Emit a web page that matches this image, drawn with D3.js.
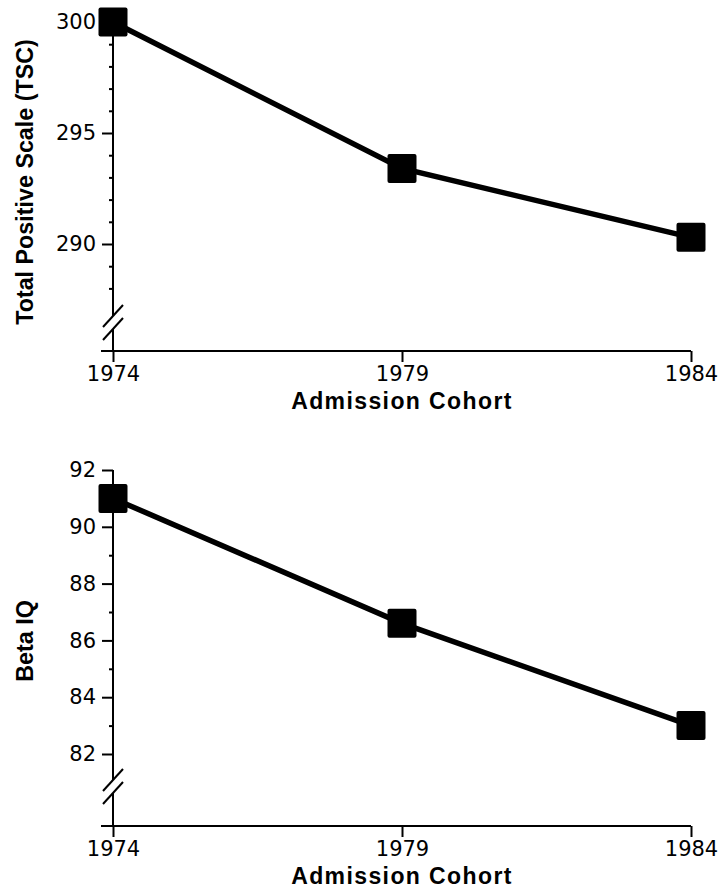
<!DOCTYPE html>
<html>
<head>
<meta charset="utf-8">
<script src="https://cdn.jsdelivr.net/npm/d3@7"></script>
<style>
  body { margin: 0; background: #fff; }
  svg { display: block; }
  .tick text { font-family: "DejaVu Sans", "Liberation Sans", Arial, sans-serif; font-size: 21px; fill: #000; }
  .title { font-family: "Liberation Sans", Arial, Helvetica, sans-serif; font-weight: bold; fill: #000; }
</style>
</head>
<body>
<script>
// Chart data
var cohorts = [1974, 1979, 1984];
var tscValues = [300.0, 293.4, 290.3];
var iqValues = [91.0, 86.6, 83.0];

// Tick labels
var tscTicks = [290, 295, 300];
var iqTicks = [82, 84, 86, 88, 90, 92];

var width = 723,
    height = 892;

var svg = d3.select("body").append("svg")
    .attr("width", width)
    .attr("height", height);

// Shared x scale for both panels
var x = d3.scaleLinear()
    .domain([1974, 1984])
    .range([113, 691]);

// One panel: values, scale, tick setup and where the bottom axis sits
function drawPanel(opts) {
    var g = svg.append("g");
    var y = opts.y;

    // Y axis line with a gap for the break
    g.append("line")
        .attr("x1", x(1974)).attr("x2", x(1974))
        .attr("y1", y(opts.top)).attr("y2", opts.breakY - 6)
        .attr("stroke", "#000").attr("stroke-width", 2);
    g.append("line")
        .attr("x1", x(1974)).attr("x2", x(1974))
        .attr("y1", opts.breakY + 7).attr("y2", opts.axisY)
        .attr("stroke", "#000").attr("stroke-width", 2);

    // Break marks (two slashes)
    [-6, 7].forEach(function(off) {
        g.append("line")
            .attr("x1", x(1974) - 10).attr("y1", opts.breakY + off + 11)
            .attr("x2", x(1974) + 10).attr("y2", opts.breakY + off - 11)
            .attr("stroke", "#000").attr("stroke-width", 2);
    });

    // Minor y ticks
    g.append("g")
        .attr("transform", "translate(" + x(1974) + ",0)")
        .call(d3.axisLeft(y).tickValues(opts.minor).tickSize(4).tickFormat(""))
        .call(function(s) { s.select(".domain").remove(); })
        .selectAll("line").attr("stroke-width", 2);

    // Major y ticks with labels
    g.append("g")
        .attr("transform", "translate(" + x(1974) + ",0)")
        .call(d3.axisLeft(y).tickValues(opts.ticks).tickSize(11).tickPadding(6).tickFormat(d3.format("d")))
        .call(function(s) { s.select(".domain").remove(); })
        .selectAll("line").attr("stroke-width", 2);

    // X axis
    g.append("line")
        .attr("x1", x(1974) - 12).attr("x2", x(1984))
        .attr("y1", opts.axisY).attr("y2", opts.axisY)
        .attr("stroke", "#000").attr("stroke-width", 2);
    g.append("g")
        .attr("transform", "translate(0," + opts.axisY + ")")
        .call(d3.axisBottom(x).tickValues(cohorts).tickSize(11).tickPadding(4).tickFormat(d3.format("d")))
        .call(function(s) { s.select(".domain").remove(); })
        .selectAll("line").attr("stroke-width", 2);

    // Axis titles
    g.append("text")
        .attr("class", "title")
        .attr("x", x(1979))
        .attr("y", opts.axisY + 58)
        .attr("text-anchor", "middle")
        .style("font-size", "23px")
        .style("letter-spacing", "1.4px")
        .text("Admission Cohort");

    g.append("text")
        .attr("class", "title")
        .attr("transform", "translate(33," + opts.titleY + ") rotate(-90)")
        .attr("text-anchor", "middle")
        .style("font-size", "23.3px")
        .text(opts.label);

    // Data line
    var line = d3.line()
        .x(function(d, i) { return x(cohorts[i]); })
        .y(function(d) { return y(d); });

    g.append("path")
        .datum(opts.values)
        .attr("fill", "none")
        .attr("stroke", "#000")
        .attr("stroke-width", 5.5)
        .attr("d", line);

    // Square markers
    g.selectAll("rect.pt")
        .data(opts.values)
        .enter()
        .append("rect")
        .attr("class", "pt")
        .attr("x", function(d, i) { return x(cohorts[i]) - 14.5; })
        .attr("y", function(d) { return y(d) - 14.5; })
        .attr("width", 29)
        .attr("height", 29)
        .attr("rx", 2)
        .attr("fill", "#000");
}

// Top panel: Total Positive Scale
drawPanel({
    y: d3.scaleLinear().domain([290, 300]).range([244, 22]),
    top: 300,
    ticks: tscTicks,
    minor: d3.range(288, 300).filter(function(v) { return v % 5 != 0; }),
    values: tscValues,
    axisY: 351,
    breakY: 322,
    titleY: 182,
    label: "Total Positive Scale (TSC)"
});

// Bottom panel: Beta IQ
drawPanel({
    y: d3.scaleLinear().domain([82, 92]).range([754, 470]),
    top: 92,
    ticks: iqTicks,
    minor: d3.range(83, 92, 2),
    values: iqValues,
    axisY: 826,
    breakY: 786,
    titleY: 641,
    label: "Beta IQ"
});
</script>
</body>
</html>
